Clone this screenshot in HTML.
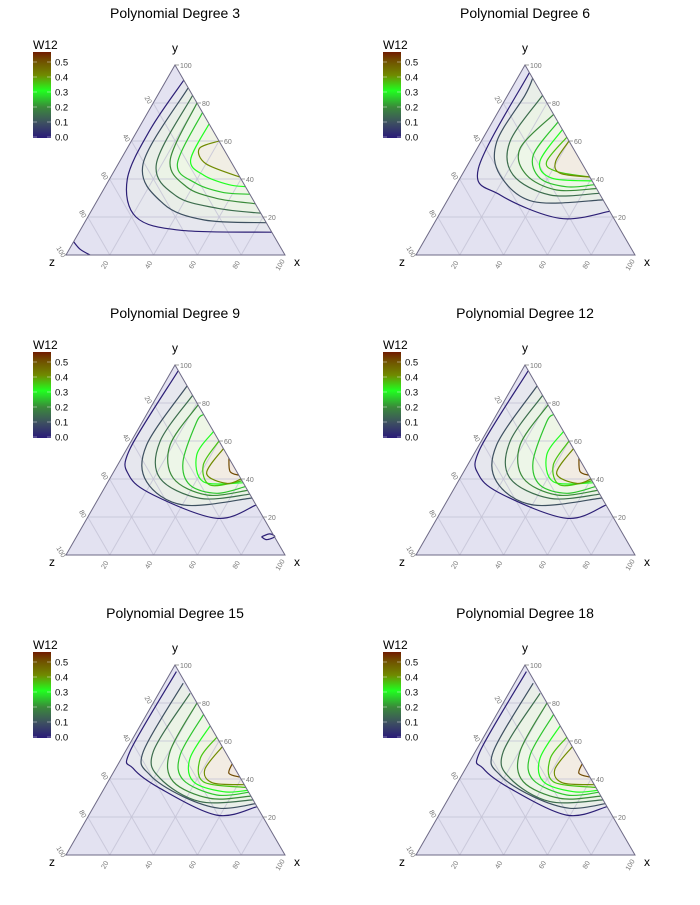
<!DOCTYPE html>
<html><head><meta charset="utf-8">
<style>
body{margin:0;background:#fff;font-family:"Liberation Sans",sans-serif;}
svg text{font-family:"Liberation Sans",sans-serif;}
</style></head>
<body>
<svg id="chart" width="700" height="900" viewBox="0 0 700 900" xmlns="http://www.w3.org/2000/svg">
<defs>
<linearGradient id="cbar" x1="0" y1="1" x2="0" y2="0">
<stop offset="0" stop-color="#2a1a78"/>
<stop offset="0.18" stop-color="#3d5060"/>
<stop offset="0.36" stop-color="#3a8a3a"/>
<stop offset="0.55" stop-color="#20ff20"/>
<stop offset="0.73" stop-color="#708a00"/>
<stop offset="0.91" stop-color="#704a00"/>
<stop offset="1" stop-color="#701a00"/>
</linearGradient>
</defs>
</svg>
<script>
// ---- data ----
const panelTitles = ["Polynomial Degree 3","Polynomial Degree 6","Polynomial Degree 9","Polynomial Degree 12","Polynomial Degree 15","Polynomial Degree 18"];
const legendTicks = [0.0,0.1,0.2,0.3,0.4,0.5];
const axisTicks = [20,40,60,80,100];
// contour levels per panel
const levelsP1 = [0.01,0.1,0.15,0.2,0.25,0.3,0.4];
const levelsP2 = [0.01,0.1,0.15,0.2,0.25,0.3,0.35,0.4];
const levelsP3 = [0.01,0.1,0.15,0.2,0.25,0.3,0.35,0.4,0.5];
// contour lines as ternary [x%, y%] points
const contoursP1 = [
 [[8,92],[5.6,66],[8.1,40],[22,20],[46,13],[88,12]],
 [[12,88],[11.3,48],[31,27],[54,18.4],[83,17]],
 [[16,84],[17.4,48],[35,31],[57,24.6],[78,22]],
 [[20,80],[22.7,50],[37,36],[54,29.8],[73,27]],
 [[25,75],[27,48],[40,38],[55,33],[68,32]],
 [[31,69],[32,50],[42,42],[56,37],[64,36]],
 [[40,60],[33,56],[40,48],[59,41]]
];
const cornerP1 = [[0,7],[5,3],[11,0]];
const contoursP2 = [
 [[4,96],[5.8,45.6],[22.7,31.6],[56,19.3],[77,23]],
 [[7,93],[7.9,84],[7.2,59.6],[17.4,42.1],[39.6,28.1],[71,29]],
 [[16,84],[13.2,59.6],[23.4,42.1],[45.5,31.6],[67.5,32.5]],
 [[26,74],[19.6,56.1],[29.5,42.1],[47.2,34.2],[65,35]],
 [[30,70],[27.4,52.6],[36.5,40.4],[51,35.9],[63,37]],
 [[34,66],[32.1,49.1],[42,40.4],[61,39]],
 [[38,62],[35.2,49.1],[42.3,44],[59,41]],
 [[40,60],[39.3,49.1],[44.5,43],[59,41]]
];
const contoursP3 = [
 [[3,97],[1.4,56.1],[7.7,42.1],[24.2,31.6],[59.2,19.3],[73.7,26.3]],
 [[11,89],[8,57.9],[17.6,38.6],[40.5,26.3],[70,30]],
 [[16,84],[13.2,59.6],[22.8,40.4],[46.4,29.8],[68,32]],
 [[21,79],[18.7,57.9],[28.9,40.4],[48.6,31.6],[66,34]],
 [[26,74],[24.8,70],[29,49.1],[38.3,36.8],[52.7,32.5],[64,36]],
 [[35,65],[33.5,52.6],[43.5,38.6],[62,38]],
 [[40,60],[39.1,47.4],[47.5,36.8],[61,39]],
 [[44,56],[42.8,43],[54.6,37.7],[60,40]],
 [[49,51],[53,44],[58,42]]
];
const loopP3 = [[84.5,9.6],[87.5,11.1],[90.5,9.6],[87.5,8.1],[84.5,9.6]];
const contoursP5 = [
 [[2.4,96.5],[2.1,54.4],[8,45.6],[25.4,35.1],[58.3,21],[74.6,25.4]],
 [[8.5,90.4],[8.2,54.4],[17.4,42.1],[38.3,30.7],[58,24.6],[73,27]],
 [[14.3,85.1],[12.8,54.4],[22.8,40.4],[47.2,28.1],[71,29]],
 [[20,80],[20.4,54.4],[29.8,38.6],[51,29.8],[69,31]],
 [[26,74],[25.9,52.6],[33.9,39.5],[53.1,31.6],[67,33]],
 [[32,68],[31.3,50.9],[39,38.6],[55.3,33.3],[66,34]],
 [[38,62],[36,50.9],[43.5,38.6],[64.5,35.5]],
 [[43,57],[41,45],[48,38],[63,37]],
 [[52,48],[53,43],[59,41]]
];
const panelContours = [contoursP1,contoursP2,contoursP3,contoursP3,contoursP5,contoursP5];
const panelLevels = [levelsP1,levelsP2,levelsP3,levelsP3,levelsP3,levelsP3];

// ---- helpers ----
const NS="http://www.w3.org/2000/svg";
const svg=document.getElementById('chart');
function mk(tag,attrs,parent){const e=document.createElementNS(NS,tag);for(const k in attrs)e.setAttribute(k,attrs[k]);(parent||svg).appendChild(e);return e;}
const colorStops=[[0,[42,26,120]],[0.1,[61,80,96]],[0.2,[58,138,58]],[0.3,[32,255,32]],[0.4,[112,138,0]],[0.5,[112,74,0]],[0.55,[112,26,0]]];
function levelColor(v){for(let i=1;i<colorStops.length;i++){if(v<=colorStops[i][0]){const a=colorStops[i-1],b=colorStops[i];const t=(v-a[0])/(b[0]-a[0]);const c=a[1].map((q,j)=>Math.round(q+(b[1][j]-q)*t));return `rgb(${c})`;}}return 'rgb(112,26,0)';}
function proj(ox,oy,x,y){x/=100;y/=100;const z=1-x-y;return [x*(285+ox)+y*(175+ox)+z*(66+ox), x*(255+oy)+y*(65+oy)+z*(255+oy)];}
function smooth(pts){let d=`M${pts[0][0].toFixed(1)},${pts[0][1].toFixed(1)}`;for(let i=0;i<pts.length-1;i++){const p0=pts[i-1]||pts[i],p1=pts[i],p2=pts[i+1],p3=pts[i+2]||p2;const c1=[p1[0]+(p2[0]-p0[0])/6,p1[1]+(p2[1]-p0[1])/6],c2=[p2[0]-(p3[0]-p1[0])/6,p2[1]-(p3[1]-p1[1])/6];d+=`C${c1[0].toFixed(1)},${c1[1].toFixed(1)} ${c2[0].toFixed(1)},${c2[1].toFixed(1)} ${p2[0].toFixed(1)},${p2[1].toFixed(1)}`;}return d;}
const fills=['#e6e7ee','#e9eee8','#ebf3e6','#edf6e8','#eef6e6','#f0f3e4','#f1eee4','#f2ece3','#f2e9e2'];

for(let p=0;p<6;p++){
 const ox=(p%2)*350, oy=Math.floor(p/2)*300;
 const g=mk('g',{});
 
 
 const t=mk('text',{x:175+ox,y:18+oy,'text-anchor':'middle','font-size':14,fill:'#000'},g);t.textContent=panelTitles[p];
 
 
 // legend
 const lg=mk('g',{},g);
 
 
 const lt=mk('text',{x:33+ox,y:49+oy,'font-size':12},lg);lt.textContent='W12';
 mk('rect',{x:33+ox,y:52+oy,width:18,height:86,fill:'url(#cbar)'},lg);
 legendTicks.forEach(v=>{const yy=137+oy-v*150;mk('line',{x1:33+ox,x2:37+ox,y1:yy,y2:yy,stroke:'#fff','stroke-width':0.6,opacity:0.7},lg);mk('line',{x1:47+ox,x2:51+ox,y1:yy,y2:yy,stroke:'#fff','stroke-width':0.6,opacity:0.7},lg);const tx=mk('text',{x:55+ox,y:yy+3.5,'font-size':9.5,fill:'#000'},lg);tx.textContent=v.toFixed(1);});
 // triangle
 const A=proj(ox,oy,0,100),L=proj(ox,oy,0,0),R=proj(ox,oy,100,0);
 const tri=mk('polygon',{points:`${A} ${L} ${R}`,fill:'#e3e2f1',stroke:'none'},g);
 
 
 // contour fills
 const cs=panelContours[p], lv=panelLevels[p];
 cs.forEach((c,i)=>{const pts=c.map(q=>proj(ox,oy,q[0],q[1]));mk('path',{d:smooth(pts)+'Z',fill:fills[i],stroke:'none'},g);});
 // grid
 [20,40,60,80].forEach(v=>{
  [[proj(ox,oy,0,v),proj(ox,oy,100-v,v)],[proj(ox,oy,v,0),proj(ox,oy,v,100-v)],[proj(ox,oy,0,100-v),proj(ox,oy,100-v,0)]].forEach(s=>{mk('line',{x1:s[0][0],y1:s[0][1],x2:s[1][0],y2:s[1][1],stroke:'#c4c3d6','stroke-width':1,opacity:0.8},g);});
 });
 // contour lines
 cs.forEach((c,i)=>{const pts=c.map(q=>proj(ox,oy,q[0],q[1]));const e=mk('path',{d:smooth(pts),fill:'none',stroke:levelColor(lv[i]),'stroke-width':1.2},g);
  
  });
 if(p===0){const e=mk('path',{d:smooth(cornerP1.map(q=>proj(ox,oy,q[0],q[1]))),fill:'none',stroke:levelColor(0.01),'stroke-width':1.2},g);}
 if(p===2){const e=mk('path',{d:smooth(loopP3.map(q=>proj(ox,oy,q[0],q[1]))),fill:'none',stroke:levelColor(0.01),'stroke-width':1.2},g);}
 mk('polygon',{points:`${A} ${L} ${R}`,fill:'none',stroke:'#6e6a86','stroke-width':1},g);
 // ticks
 axisTicks.forEach(v=>{
  const r=proj(ox,oy,100-v,v);mk('line',{x1:r[0],y1:r[1],x2:r[0]+4,y2:r[1],stroke:'#888','stroke-width':0.8},g);
  const rt=mk('text',{x:r[0]+5,y:r[1]+3,'font-size':7,fill:'#777'},g);rt.textContent=v;
  const l=proj(ox,oy,0,100-v);
  const lt2=mk('text',{x:l[0]-7,y:l[1]-2,'font-size':7,fill:'#777','text-anchor':'middle',transform:`rotate(60 ${l[0]-7} ${l[1]-2})`},g);lt2.textContent=v;
  const b=proj(ox,oy,v,0);
  const bt=mk('text',{x:b[0]-3,y:b[1]+11,'font-size':7,fill:'#777','text-anchor':'middle',transform:`rotate(-60 ${b[0]-3} ${b[1]+11})`},g);bt.textContent=v;
 });
 const ay=mk('text',{x:175+ox,y:52+oy,'text-anchor':'middle','font-size':12},g);ay.textContent='y';
 
 const az=mk('text',{x:52+ox,y:266+oy,'text-anchor':'middle','font-size':12},g);az.textContent='z';
 
 const ax=mk('text',{x:297+ox,y:266+oy,'text-anchor':'middle','font-size':12},g);ax.textContent='x';
 
}
</script>
</body></html>
